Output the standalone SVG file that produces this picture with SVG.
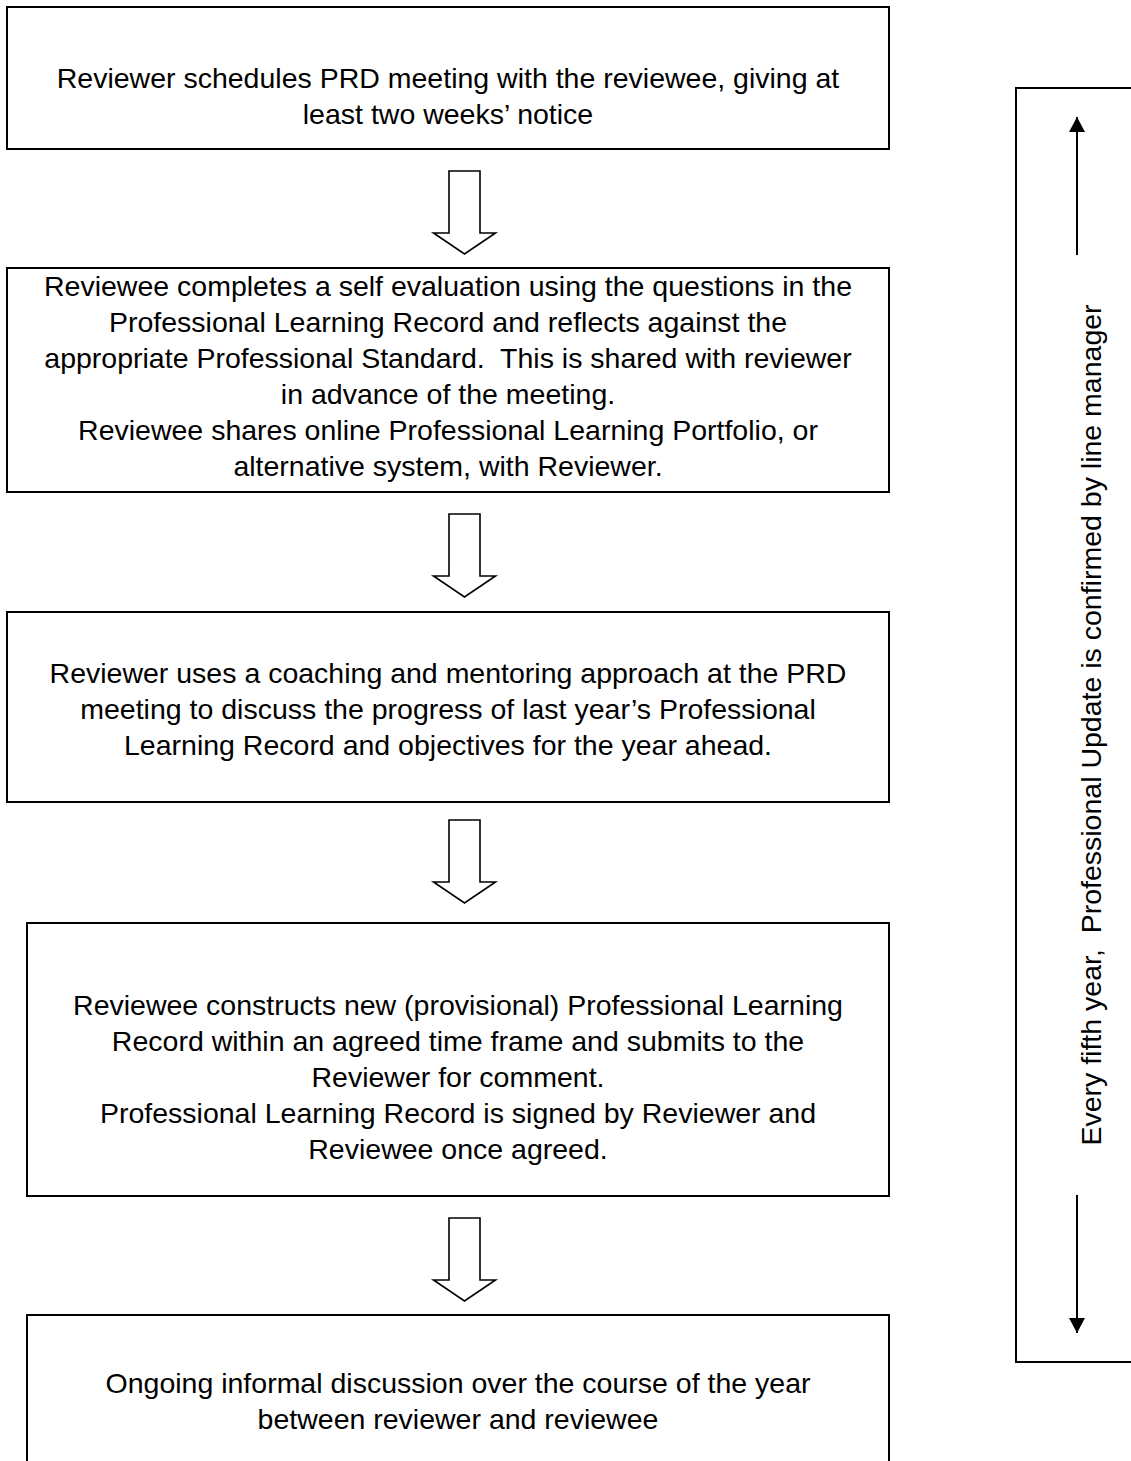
<svg xmlns="http://www.w3.org/2000/svg" width="1131" height="1461" viewBox="0 0 1131 1461">
<defs>
<style>
.box{fill:#fff;stroke:#000;stroke-width:2}
.t{font-family:"Liberation Sans",Arial,sans-serif;font-size:28.5px;fill:#000;text-anchor:middle}
.blk{fill:#fff;stroke:#000;stroke-width:1.6;stroke-linejoin:miter}
.ln{stroke:#000;stroke-width:2;fill:none}
</style>
<marker id="ah" viewBox="0 0 10 10" refX="10" refY="5" markerWidth="15" markerHeight="16" markerUnits="userSpaceOnUse" orient="auto" preserveAspectRatio="none">
<path d="M0,0 L10,5 L0,10 Z" fill="#000"/>
</marker>
<path id="blockArrow" d="M-15.5,0 L15.5,0 L15.5,62 L31,62 L0,83 L-31,62 L-15.5,62 Z"/>
</defs>
<rect width="1131" height="1461" fill="#fff"/>

<g id="node1">
<rect class="box" x="7" y="7" width="882" height="142"/>
<text class="t" x="448" y="88">Reviewer schedules PRD meeting with the reviewee, giving at</text>
<text class="t" x="448" y="124">least two weeks’ notice</text>
</g>

<g id="node2">
<rect class="box" x="7" y="268" width="882" height="224"/>
<text class="t" x="448" y="296">Reviewee completes a self evaluation using the questions in the</text>
<text class="t" x="448" y="332">Professional Learning Record and reflects against the</text>
<text class="t" x="448" y="368" xml:space="preserve">appropriate Professional Standard.  This is shared with reviewer</text>
<text class="t" x="448" y="404">in advance of the meeting.</text>
<text class="t" x="448" y="440">Reviewee shares online Professional Learning Portfolio, or</text>
<text class="t" x="448" y="476">alternative system, with Reviewer.</text>
</g>

<g id="node3">
<rect class="box" x="7" y="612" width="882" height="190"/>
<text class="t" x="448" y="683">Reviewer uses a coaching and mentoring approach at the PRD</text>
<text class="t" x="448" y="719">meeting to discuss the progress of last year’s Professional</text>
<text class="t" x="448" y="755">Learning Record and objectives for the year ahead.</text>
</g>

<g id="node4">
<rect class="box" x="27" y="923" width="862" height="273"/>
<text class="t" x="458" y="1015">Reviewee constructs new (provisional) Professional Learning</text>
<text class="t" x="458" y="1051">Record within an agreed time frame and submits to the</text>
<text class="t" x="458" y="1087">Reviewer for comment.</text>
<text class="t" x="458" y="1123">Professional Learning Record is signed by Reviewer and</text>
<text class="t" x="458" y="1159">Reviewee once agreed.</text>
</g>

<g id="node5">
<rect class="box" x="27" y="1315" width="862" height="160"/>
<text class="t" x="458" y="1393">Ongoing informal discussion over the course of the year</text>
<text class="t" x="458" y="1429">between reviewer and reviewee</text>
</g>

<g id="side">
<rect class="box" x="1016" y="88" width="140" height="1274"/>
<text class="t" transform="translate(1101,725) rotate(-90)" x="0" y="0" xml:space="preserve">Every fifth year,  Professional Update is confirmed by line manager</text>
</g>

<g id="connectors">
<use href="#blockArrow" class="blk" x="464.5" y="171"/>
<use href="#blockArrow" class="blk" x="464.5" y="514"/>
<use href="#blockArrow" class="blk" x="464.5" y="820"/>
<use href="#blockArrow" class="blk" x="464.5" y="1218"/>
<line class="ln" x1="1077" y1="255" x2="1077" y2="117" marker-end="url(#ah)"/>
<line class="ln" x1="1077" y1="1195" x2="1077" y2="1333" marker-end="url(#ah)"/>
</g>
</svg>
